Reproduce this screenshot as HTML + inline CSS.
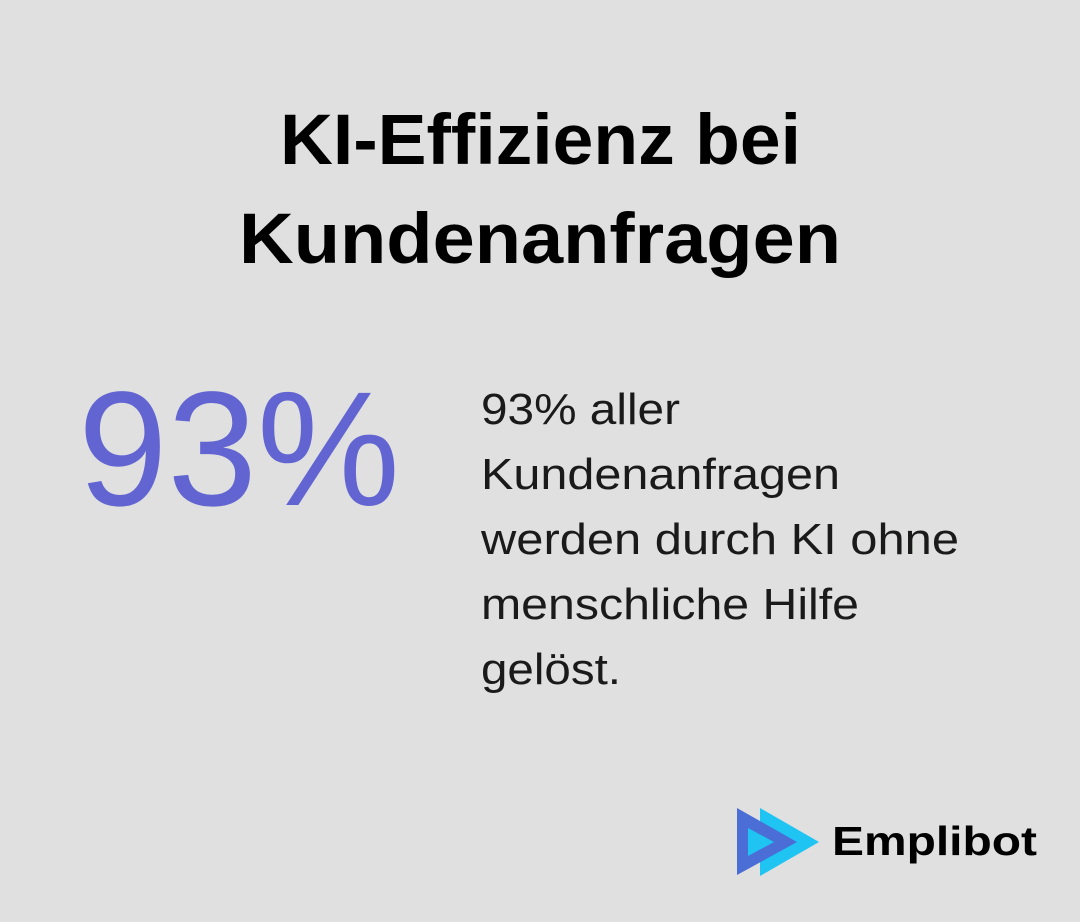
<!DOCTYPE html>
<html>
<head>
<meta charset="utf-8">
<style>
  html, body { margin: 0; padding: 0; background: #dfe0df; }
  body { width: 1080px; height: 922px; overflow: hidden; }
  svg { display: block; }
</style>
</head>
<body>
<svg width="1080" height="922" viewBox="0 0 1080 922" xmlns="http://www.w3.org/2000/svg">
  <rect x="0" y="0" width="1080" height="922" fill="#dfe0df"/>

  <!-- Title -->
  <g font-family="'Liberation Sans', 'DejaVu Sans', sans-serif" font-weight="700" font-size="71" fill="#000">
    <text x="280" y="164" textLength="521" lengthAdjust="spacingAndGlyphs">KI-Effizienz bei</text>
    <text x="239" y="263" textLength="602" lengthAdjust="spacingAndGlyphs">Kundenanfragen</text>
  </g>

  <!-- Big number -->
  <text x="78" y="505" font-family="'Liberation Sans', 'DejaVu Sans', sans-serif" font-size="163" fill="#6265d1" textLength="322" lengthAdjust="spacingAndGlyphs">93%</text>

  <!-- Description -->
  <g font-family="'Liberation Sans', 'DejaVu Sans', sans-serif" font-size="44" fill="#1a1a1a">
    <text x="481" y="424" textLength="199" lengthAdjust="spacingAndGlyphs">93% aller</text>
    <text x="481" y="489" textLength="359" lengthAdjust="spacingAndGlyphs">Kundenanfragen</text>
    <text x="481" y="554" textLength="478" lengthAdjust="spacingAndGlyphs">werden durch KI ohne</text>
    <text x="481" y="619" textLength="378" lengthAdjust="spacingAndGlyphs">menschliche Hilfe</text>
    <text x="481" y="684" textLength="140" lengthAdjust="spacingAndGlyphs">gelöst.</text>
  </g>

  <!-- Logo -->
  <polygon points="760,808 760,876 819,842" fill="#1fc4f3"/>
  <polygon points="737,808 737,875 797,842" fill="#4a6ed6"/>
  <polygon points="748,828 748,856 774,842" fill="#1fc4f3"/>
  <text x="832" y="855" font-family="'Liberation Sans', 'DejaVu Sans', sans-serif" font-weight="700" font-size="41" fill="#000" textLength="205" lengthAdjust="spacingAndGlyphs">Emplibot</text>
</svg>
</body>
</html>
